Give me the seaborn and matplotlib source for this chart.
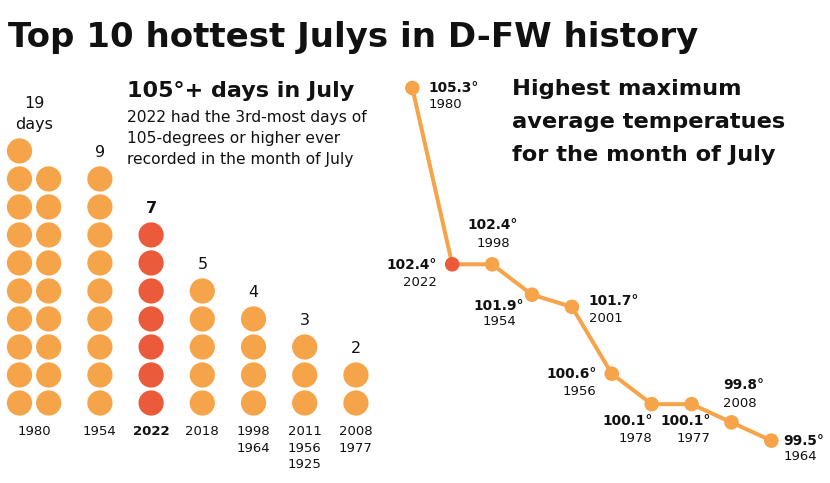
"""
Top 10 hottest Julys in D-FW: 105-degree days (dot columns) and
highest average max temperatures (ranked line).
"""

import math

import matplotlib
matplotlib.use("Agg")
import matplotlib.pyplot as plt
import pandas as pd
import seaborn as sns

# 105°+ days in July
day_years = ["1980", "1954", "2022", "2018", "1998\n1964", "2011\n1956\n1925", "2008\n1977"]
day_counts = [19, 9, 7, 5, 4, 3, 2]

# highest maximum average temperature in July, ranked
temp_years = ["1980", "2022", "1998", "1954", "2001", "1956", "1978", "1977", "2008", "1964"]
temp_values = [105.3, 102.4, 102.4, 101.9, 101.7, 100.6, 100.1, 100.1, 99.8, 99.5]

highlight = "2022"
ORANGE = "#F6A44A"
RED = "#EC5A3C"
INK = "#111111"

sns.set_style("white")
plt.rcParams["font.family"] = ["DejaVu Sans"]

W, H = 830, 483
fig = plt.figure(figsize=(W / 100, H / 100), dpi=100)
fig.patch.set_facecolor("white")

# ---- left: dot columns ----
ax_d = fig.add_axes([0, 0, 380 / W, 1])
rows = []
centers = []
x = 0.0
for yr, n in zip(day_years, day_counts):
    ncols = math.ceil(n / 10)
    xs = []
    for c in range(ncols):
        xc = x + c * 0.57
        xs.append(xc)
        for r in range(min(10, n - c * 10)):
            rows.append({"x": xc, "row": r, "hot": "hi" if yr == highlight else "lo"})
    centers.append(sum(xs) / len(xs))
    x = xs[-1] + 1
dots = pd.DataFrame(rows)

sns.scatterplot(data=dots, x="x", y="row", hue="hot", palette={"hi": RED, "lo": ORANGE},
                s=330, linewidth=0, legend=False, ax=ax_d)

for i, (yr, n, xc) in enumerate(zip(day_years, day_counts, centers)):
    top = min(n, 10) - 1
    bold = yr == highlight
    if i == 0:
        ax_d.text(xc, top + 1.32, f"{n}\ndays", ha="center", va="center", fontsize=11.5,
                  linespacing=1.54, color=INK)
    else:
        ax_d.text(xc, top + 0.95, str(n), ha="center", va="center", fontsize=11.5,
                  fontweight="bold" if bold else "normal", color=INK)
    ax_d.text(xc, -0.8, yr, ha="center", va="top", fontsize=9.5, linespacing=1.33,
              fontweight="bold" if bold else "normal", color=INK)

ax_d.set_xlim(-0.381, 7.04)
ax_d.set_ylim(-2.857, 14.39)
ax_d.set_axis_off()

# ---- right: ranked temperatures ----
ax_t = fig.add_axes([380 / W, 0, 450 / W, 1])
temps = pd.DataFrame({"rank": range(len(temp_values)), "temp": temp_values, "year": temp_years})
temps["hot"] = ["hi" if y == highlight else "lo" for y in temp_years]

sns.lineplot(data=temps, x="rank", y="temp", color=ORANGE, lw=2.9, ax=ax_t)
sns.scatterplot(data=temps, x="rank", y="temp", hue="hot", palette={"hi": RED, "lo": ORANGE},
                s=110, linewidth=0, legend=False, zorder=3, ax=ax_t)

# label placement: (ha, dx, dy value, dy year) in pixels
label_pos = [
    ("left", 16, 0, -17),
    ("right", -15, -1, -18),
    ("center", 1, 39, 21),
    ("center", -33, -11, -27),
    ("left", 17, 6, -12),
    ("right", -15, 0, -18),
    ("right", 1, -17, -34),
    ("right", 19, -17, -34),
    ("left", -8, 37, 19),
    ("left", 12, 0, -16),
]
for (_, row), (ha, dx, dv, dy) in zip(temps.iterrows(), label_pos):
    ax_t.annotate(f"{row['temp']:.1f}°", (row["rank"], row["temp"]), xytext=(dx, dv),
                  textcoords="offset pixels", ha=ha, va="center", fontsize=9.9,
                  fontweight="bold", color=INK)
    ax_t.annotate(row["year"], (row["rank"], row["temp"]), xytext=(dx, dy),
                  textcoords="offset pixels", ha=ha, va="center", fontsize=9.5, color=INK)

ax_t.set_xlim(-0.81, 10.47)
ax_t.set_ylim(98.803, 106.747)
ax_t.set_axis_off()

# ---- text ----
fig.text(8 / W, 1 - 46.7 / H, "Top 10 hottest Julys in D-FW history", fontsize=24.5,
         fontweight="bold", va="baseline", ha="left", color=INK)
fig.text(127 / W, 1 - 96.7 / H, "105°+ days in July", fontsize=16, fontweight="bold",
         va="baseline", ha="left", color=INK)
fig.text(127 / W, 1 - 110 / H,
         "2022 had the 3rd-most days of\n105-degrees or higher ever\nrecorded in the month of July",
         fontsize=11.2, linespacing=1.52, va="top", ha="left", color=INK)
fig.text(512 / W, 1 - 79 / H, "Highest maximum\naverage temperatues\nfor the month of July",
         fontsize=16.2, linespacing=1.8, fontweight="bold", va="top", ha="left", color=INK)

fig.savefig("out.png", dpi=100)
